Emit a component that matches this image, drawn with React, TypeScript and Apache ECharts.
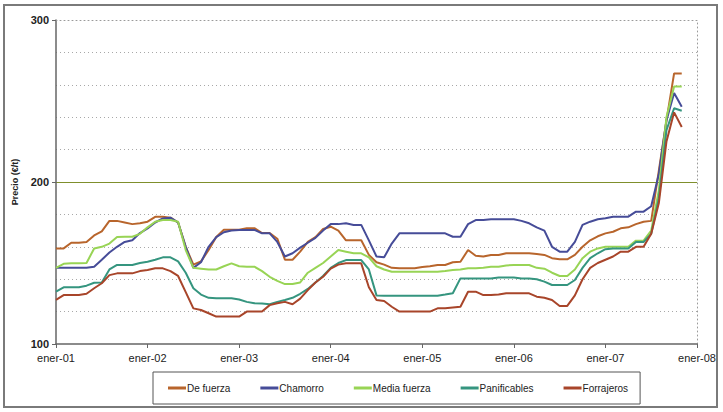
import React, { useEffect, useRef } from "react";
import * as echarts from "echarts";

// Monthly observations from ener-01 (index 0) to nov-07 (index 82)
const startYear = 2001;
const seriesNames = ["De fuerza", "Chamorro", "Media fuerza", "Panificables", "Forrajeros"];
const seriesColors = ["#b8652c", "#464c98", "#98d455", "#35957f", "#a8452a"];
const yTicks = [100, 200, 300];
const xTickYears = [2001, 2002, 2003, 2004, 2005, 2006, 2007, 2008];

const deFuerza = [
  159, 159, 162.5, 162.5, 163, 167, 169.5, 176, 176, 175, 174, 174.5,
  175.5, 178.5, 178.5, 178, 175, 160, 149, 151, 158, 166, 170.5, 170.5,
  170.5, 171.5, 171.5, 168.5, 168.5, 165, 152, 152, 157, 163, 166, 171,
  172.4, 170, 164, 164, 164, 155, 150.5, 149, 147, 146.7, 146.7, 146.7,
  147.5, 148, 148.8, 148.8, 150.5, 150.8, 158, 154.5, 154, 155, 155, 156,
  156, 156, 156, 155.5, 155, 153, 152.3, 152.3, 155, 160, 164, 166.5,
  168.3, 169.3, 171.4, 172, 174, 175.5, 176, 207, 238, 267, 267,
];
const chamorro = [
  147, 147, 147, 147, 147, 147.7, 152, 156.5, 160, 163, 164, 168.5,
  171.4, 175, 177.5, 178, 175, 160, 147, 150.5, 160, 166, 169, 170,
  170.4, 170.4, 170.4, 168.3, 168.3, 163, 154, 156, 159.5, 162.5, 165.5, 170,
  174, 174, 174.5, 173.5, 173.5, 164, 154, 153.5, 162, 168.3, 168.3, 168.3,
  168.3, 168.3, 168.3, 168.3, 166.2, 166.2, 174, 176.5, 176.5, 177, 177, 177,
  177, 176, 174.5, 172, 170, 160, 157, 157, 163, 173.5, 175.5, 177,
  177.6, 178.6, 178.6, 178.6, 181.7, 181.7, 185, 205, 238, 255, 246.5,
];
const mediaFuerza = [
  147, 149.5, 149.8, 149.8, 150, 159, 160, 162, 166, 166.2, 166.2, 168,
  172, 175.5, 176.5, 176.5, 175.5, 158, 147, 146.5, 146, 146, 148, 149.8,
  148, 147.7, 147.7, 145, 141.5, 139, 137, 137, 138, 144, 147, 150,
  154, 158, 157, 156, 156, 153.5, 148, 146, 144.6, 144.6, 144.6, 144.6,
  144.6, 144.6, 144.6, 145, 145.7, 146, 146.7, 146.7, 147, 147.7, 147.7, 148.5,
  148.8, 148.8, 148.8, 147, 146.5, 144, 142, 142, 146, 153, 157, 159,
  160, 160, 160, 160, 163.8, 163.8, 170, 195, 240, 259, 259,
];
const panificables = [
  132.3, 135, 135, 135, 136, 137.8, 138, 146, 148.8, 148.8, 148.8, 150,
  150.8, 152, 153.5, 153.5, 151, 144, 134.4, 130.5, 128.5, 128.2, 128.2, 128.2,
  127.5, 126, 125.1, 125, 124.5, 126, 127.2, 128.5, 131, 134, 138, 142,
  147, 150, 151.8, 151.8, 151.8, 146, 130, 129.8, 129.8, 129.8, 129.8, 129.8,
  129.8, 129.8, 129.8, 130.5, 131.3, 140.5, 140.5, 140.5, 140.5, 140.5, 141, 141,
  141, 140.5, 140.5, 140, 138.5, 136.4, 136.4, 136.4, 139.5, 147, 153, 156,
  158.5, 159, 159, 159, 163, 163, 168, 190, 232, 245.5, 244,
];
const forrajeros = [
  127.2, 130.2, 130.2, 130.2, 131, 134.4, 137.5, 142.5, 143.6, 143.6, 143.6, 145,
  145.7, 146.7, 146.7, 145, 142, 132, 122, 121, 119, 116.9, 116.9, 116.9,
  116.9, 120, 120, 120, 124, 125.1, 126, 124.5, 128, 133.3, 138, 141.5,
  146.5, 149, 149.8, 149.8, 149.8, 135, 127.2, 126.5, 123, 120, 120, 120,
  120, 120, 122, 122, 122.5, 123, 132.3, 132.3, 130.2, 130.2, 130.5, 131.3,
  131.3, 131.3, 131.3, 129.2, 128.5, 127.2, 123.5, 123.5, 130, 140, 147, 150,
  152, 154, 157, 157, 160, 160, 168, 187, 225, 243, 234,
];

const seriesValues = [deFuerza, chamorro, mediaFuerza, panificables, forrajeros];

const FONT = "'Liberation Sans', Arial, sans-serif";

export default function App() {
  const ref = useRef<HTMLDivElement>(null);

  useEffect(() => {
    if (!ref.current) return;
    const chart = echarts.init(ref.current, null, { renderer: "svg" });
    const series = seriesNames.map((name, k) => ({
      name,
      type: "line",
      showSymbol: false,
      symbol: "none",
      xAxisIndex: 0,
      yAxisIndex: 0,
      data: seriesValues[k].map((v, i) => [startYear + i / 12, v]),
      lineStyle: { width: 2, color: seriesColors[k] },
      itemStyle: { color: seriesColors[k] },
      z: 3 + k,
    }));

    const dotted = { color: "#9a9a9a", type: [1, 3] as number[], width: 1 };

    chart.setOption({
      animation: false,
      backgroundColor: "#ffffff",
      textStyle: { fontFamily: FONT },
      grid: { left: 56, right: 26, top: 20, bottom: 68, containLabel: false },
      graphic: [
        {
          type: "rect",
          shape: { x: 4, y: 5, width: 713, height: 402 },
          style: { fill: "none", stroke: "#7a7a7a", lineWidth: 2 },
          silent: true,
        },
      ],
      legend: {
        data: seriesNames.map((n) => ({ name: n, icon: "rect" })),
        left: 153,
        top: 372,
        itemWidth: 18,
        itemHeight: 3,
        itemGap: 30,
        padding: [11, 12, 11, 15],
        borderColor: "#555",
        borderWidth: 1,
        textStyle: { fontSize: 10, color: "#222", fontFamily: FONT, padding: [0, 0, 0, -4] },
      },
      xAxis: [
        {
          type: "value",
          min: xTickYears[0],
          max: xTickYears[xTickYears.length - 1],
          interval: 1,
          axisLine: { show: true, lineStyle: { color: "#666", width: 1.5 } },
          axisTick: { show: true, length: 4, lineStyle: { color: "#666" } },
          axisLabel: {
            fontSize: 11,
            color: "#222",
            margin: 8,
            formatter: (v: number) => "ener-" + String(v).slice(2),
          },
          splitLine: { show: false },
        },
        {
          type: "value",
          position: "top",
          min: xTickYears[0],
          max: xTickYears[xTickYears.length - 1],
          interval: 1,
          axisLine: { show: true, lineStyle: dotted },
          axisTick: { show: false },
          axisLabel: { show: false },
          splitLine: { show: false },
        },
      ],
      yAxis: [
        {
          type: "value",
          min: yTicks[0],
          max: yTicks[yTicks.length - 1],
          interval: 100,
          name: "Precio (€/t)",
          nameLocation: "middle",
          nameGap: 30,
          nameTextStyle: { fontSize: 9, fontWeight: "bold", color: "#222" },
          axisLine: { show: true, lineStyle: { color: "#666", width: 1.5 } },
          axisTick: { show: true, length: 4, lineStyle: { color: "#666" } },
          axisLabel: { fontSize: 11, fontWeight: "bold", color: "#222", margin: 7 },
          splitLine: {
            show: true,
            lineStyle: { color: ["rgba(0,0,0,0)", "#7f8f2c", "rgba(0,0,0,0)"], width: 1.2, type: "solid" },
          },
          minorTick: { show: false, splitNumber: 5 },
          minorSplitLine: { show: true, lineStyle: { color: "#a8a8a8", type: [1, 3], width: 1 } },
        },
        {
          type: "value",
          position: "right",
          min: yTicks[0],
          max: yTicks[yTicks.length - 1],
          interval: 100,
          axisLine: { show: true, lineStyle: dotted },
          axisTick: { show: false },
          axisLabel: { show: false },
          splitLine: { show: false },
        },
      ],
      series,
    });
    return () => chart.dispose();
  }, []);

  return (
    <div
      ref={ref}
      style={{ position: "fixed", left: 0, top: 0, width: 723, height: 412, background: "#fff" }}
    />
  );
}
